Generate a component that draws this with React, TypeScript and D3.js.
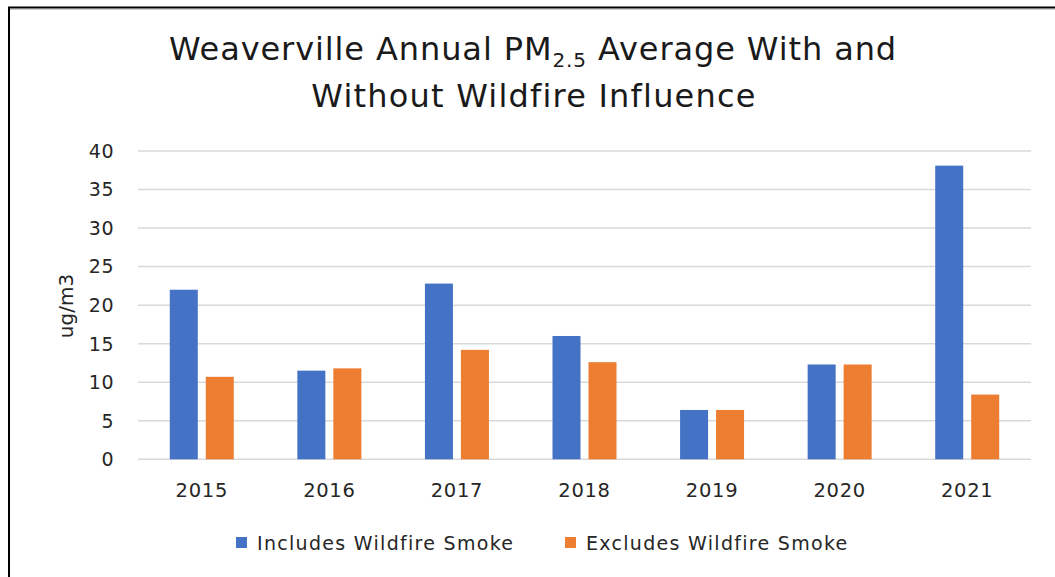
import React from "react";
import * as d3 from "d3";

const years = ["2015", "2016", "2017", "2018", "2019", "2020", "2021"];
const includesSmoke = [22.0, 11.5, 22.8, 16.0, 6.4, 12.3, 38.1];
const excludesSmoke = [10.7, 11.8, 14.2, 12.6, 6.4, 12.3, 8.4];
const yTicks = [0, 5, 10, 15, 20, 25, 30, 35, 40];
const seriesNames = ["Includes Wildfire Smoke", "Excludes Wildfire Smoke"];
const colors = ["#4472C4", "#ED7D31"];

const W = 1055;
const H = 577;
const FONT = "'DejaVu Sans', sans-serif";

export default function App() {
  const x0 = d3.scaleBand<string>().domain(years).range([138, 1031]).padding(0);
  const bw = x0.bandwidth();
  const x1 = d3
    .scaleBand<string>()
    .domain(seriesNames)
    .range([bw / 2 - 32, bw / 2 + 32])
    .paddingInner(0.222)
    .paddingOuter(0);
  const y = d3.scaleLinear().domain([0, 40]).range([459.3, 151]);
  const seriesValues = [includesSmoke, excludesSmoke];
  const legendX = [236, 565];

  return (
    <svg
      width={W}
      height={H}
      style={{ position: "absolute", left: 0, top: 0, background: "#fff" }}
      fontFamily={FONT}
    >
      <rect x={0} y={0} width={W} height={H} fill="#fff" />
      <rect x={9} y={7.5} width={W + 20} height={H + 20} fill="none" stroke="#000" strokeWidth={2} />
      <line x1={10} x2={W} y1={9.5} y2={9.5} stroke="#ccc" strokeWidth={1} />

      {/* Title */}
      <text x={533} y={60} textAnchor="middle" fontSize={32} letterSpacing={0.9} fill="#1a1a1a">
        Weaverville Annual PM
        <tspan fontSize={20} dy={7}>2.5</tspan>
        <tspan dy={-7}> Average With and</tspan>
      </text>
      <text x={534} y={107} textAnchor="middle" fontSize={32} letterSpacing={1.2} fill="#1a1a1a">
        Without Wildfire Influence
      </text>

      {/* Gridlines */}
      {yTicks.map((t) => (
        <line
          key={t}
          x1={138}
          x2={1031}
          y1={y(t)}
          y2={y(t)}
          stroke="#d9d9d9"
          strokeWidth={1.5}
        />
      ))}

      {/* Y tick labels */}
      {yTicks.map((t) => (
        <text
          key={"l" + t}
          x={114}
          y={y(t)}
          dy="0.36em"
          textAnchor="end"
          fontSize={19}
          letterSpacing={0.5}
          fill="#262626"
        >
          {t}
        </text>
      ))}

      {/* Y axis title */}
      <text
        transform={`translate(73, 306) rotate(-90)`}
        textAnchor="middle"
        fontSize={20}
        fill="#262626"
      >
        ug/m3
      </text>

      {/* Bars */}
      {years.map((yr, i) => (
        <g key={yr} transform={`translate(${x0(yr)}, 0)`}>
          {seriesNames.map((s, j) => {
            const v = seriesValues[j][i];
            return (
              <rect
                key={s}
                x={x1(s)}
                y={y(v)}
                width={x1.bandwidth()}
                height={y(0) - y(v)}
                fill={colors[j]}
              />
            );
          })}
        </g>
      ))}

      {/* X labels */}
      {years.map((yr) => (
        <text
          key={"x" + yr}
          x={(x0(yr) as number) + bw / 2}
          y={497}
          textAnchor="middle"
          fontSize={19.5}
          letterSpacing={0.7}
          fill="#262626"
        >
          {yr}
        </text>
      ))}

      {/* Legend */}
      {seriesNames.map((s, j) => {
        const lx = legendX[j];
        return (
          <g key={"lg" + s}>
            <rect x={lx} y={537} width={11} height={11} fill={colors[j]} />
            <text x={lx + 21} y={550} fontSize={19} letterSpacing={1.3} fill="#262626">
              {s}
            </text>
          </g>
        );
      })}
    </svg>
  );
}
